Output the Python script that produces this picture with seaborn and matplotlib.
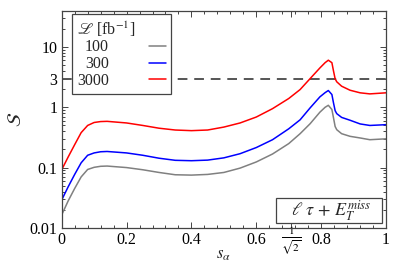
import numpy as np
import pandas as pd
import matplotlib
matplotlib.use("Agg")
import matplotlib.pyplot as plt
import matplotlib.ticker as mticker
import matplotlib.transforms as mtrans
from matplotlib.patches import Rectangle
import seaborn as sns

s_alpha = [0.0, 0.02, 0.04, 0.06, 0.08, 0.1, 0.12, 0.14, 0.2, 0.25, 0.3, 0.35, 0.4, 0.45,
           0.5, 0.55, 0.6, 0.65, 0.7, 0.735, 0.766, 0.796, 0.812, 0.822, 0.833, 0.838,
           0.843, 0.848, 0.863, 0.889, 0.92, 0.95, 1.0]

sig_100 = [0.0164, 0.028, 0.045, 0.07, 0.093, 0.101, 0.105, 0.106, 0.1, 0.092, 0.083, 0.076,
           0.075, 0.077, 0.083, 0.098, 0.124, 0.168, 0.25, 0.365, 0.535, 0.83, 1.0, 1.08,
           0.92, 0.667, 0.48, 0.425, 0.365, 0.33, 0.31, 0.29, 0.30]
sig_300 = [0.029, 0.048, 0.077, 0.12, 0.16, 0.175, 0.183, 0.185, 0.175, 0.16, 0.143, 0.132,
           0.13, 0.133, 0.145, 0.17, 0.215, 0.29, 0.44, 0.62, 0.98, 1.49, 1.75, 1.9,
           1.63, 1.18, 0.88, 0.785, 0.68, 0.61, 0.53, 0.50, 0.515]
sig_3000 = [0.092, 0.15, 0.24, 0.38, 0.50, 0.56, 0.58, 0.585, 0.55, 0.50, 0.45, 0.42,
            0.41, 0.42, 0.47, 0.55, 0.69, 0.95, 1.4, 1.97, 3.0, 4.5, 5.5, 6.05,
            5.5, 4.0, 2.97, 2.65, 2.24, 1.92, 1.74, 1.67, 1.74]

lumis = ["100", "300", "3000"]
colours = {"100": "#808080", "300": "#0000ff", "3000": "#ff0000"}
threshold = 3

xtick_pos = [0, 0.2, 0.4, 0.6, 1 / np.sqrt(2), 0.8, 1]
xtick_lab = ["0", "0.2", "0.4", "0.6", r"$\frac{1}{\sqrt{2}}$", "0.8", "1"]
ytick_pos = [0.01, 0.1, 1, 3, 10]
ytick_lab = ["0.01", "0.1", "1", "3", "10"]

df = pd.concat([
    pd.DataFrame({"s": s_alpha, "S": vals, "lumi": lab})
    for lab, vals in zip(lumis, [sig_100, sig_300, sig_3000])
])

sns.set_theme(style="ticks")
plt.rcParams["font.family"] = ["Liberation Serif", "DejaVu Serif"]
plt.rcParams["mathtext.fontset"] = "stix"

fig = plt.figure(figsize=(3.98, 2.69), dpi=100)
ax = fig.add_axes([0.155, 0.153, 0.815, 0.807])

ax.axhline(threshold, color="#555555", lw=1.4, ls=(0, (5, 3.5)), zorder=1)
sns.lineplot(data=df, x="s", y="S", hue="lumi", hue_order=lumis, palette=colours,
             lw=1.1, ax=ax, zorder=2)

ax.set_yscale("log")
ax.set_xlim(0, 1)
ax.set_ylim(0.01, 40)
ax.set_xticks(xtick_pos)
ax.set_xticklabels(xtick_lab, fontsize=11.5)
ax.xaxis.set_minor_locator(mticker.MultipleLocator(0.04))
ax.set_yticks(ytick_pos)
ax.set_yticklabels(ytick_lab, fontsize=11.5)
ax.yaxis.set_minor_locator(mticker.LogLocator(base=10, subs=np.arange(2, 10)))
ax.yaxis.set_minor_formatter(mticker.NullFormatter())
ax.tick_params(which="both", direction="in", top=True, right=True, colors="#444444",
               labelcolor="black", width=0.7)
ax.tick_params(which="major", length=4, pad=3)
ax.tick_params(which="minor", length=2.2)
for sp in ax.spines.values():
    sp.set_color("#444444")
    sp.set_linewidth(0.9)

# lift the 1/sqrt(2) label a little, like the original
frac_lab = ax.get_xticklabels()[4]
frac_lab.set_transform(frac_lab.get_transform() +
                       mtrans.ScaledTranslation(0, 5 / 72, fig.dpi_scale_trans))

ax.set_xlabel(r"$s_\alpha$", fontsize=12)
ax.xaxis.set_label_coords(0.5, -0.09)
ax.set_ylabel(r"$\mathcal{S}$", fontsize=14, labelpad=3)

handles, labels = ax.get_legend_handles_labels()
leg = ax.legend(handles, labels, title=r"$\mathscr{L}$ [fb$^{-1}$]", loc="upper left",
                bbox_to_anchor=(0.032, 0.983), borderaxespad=0, fontsize=11.5,
                title_fontsize=11.5, markerfirst=False, handlelength=1.1,
                handletextpad=2.5, labelspacing=0.05, borderpad=0.3, fancybox=False,
                framealpha=1, edgecolor="#444444", alignment="left")
leg.get_frame().set_linewidth(0.9)
leg.set_zorder(5)

ax.add_patch(Rectangle((0.66, 0.022), 0.328, 0.115, transform=ax.transAxes,
                       facecolor="white", edgecolor="#444444", lw=0.9, zorder=5))
ax.text(0.83, 0.079, r"$\ell\;\tau\,+\,E_T^{miss}$", transform=ax.transAxes,
        ha="center", va="center", fontsize=13, zorder=6)

fig.savefig("out.png", dpi=100)
